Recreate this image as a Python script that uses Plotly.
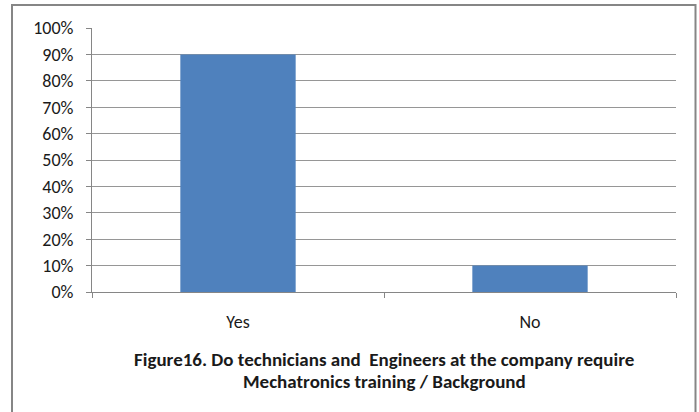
import plotly.graph_objects as go

categories = ["Yes", "No"]
values = [0.90, 0.10]
title_lines = ["Figure16. Do technicians and  Engineers at the company require",
               "Mechatronics training / Background"]

W, H = 699, 412
L, R, T, B = 92, 23, 28, 120
pw, ph = W - L - R, H - T - B

def px(x):
    return (x - L) / pw

def py(y):
    return (H - B - y) / ph

font_family = "Carlito, Calibri, 'Liberation Sans Narrow', 'Liberation Sans', Arial, sans-serif"

fig = go.Figure(go.Bar(x=categories, y=values, marker=dict(color="#4F81BD", line=dict(width=0)),
                       hoverinfo="skip"))

fig.update_layout(
    width=W, height=H,
    margin=dict(l=L, r=R, t=T, b=B),
    paper_bgcolor="white", plot_bgcolor="white",
    bargap=0.605,
    showlegend=False,
    font=dict(family=font_family, size=18, color="#1a1a1a"),
)
fig.update_xaxes(
    range=[-0.5, 1.5], showline=True, linecolor="#868686", linewidth=1,
    ticks="outside", tickson="boundaries", ticklen=5, tickcolor="#868686",
    showgrid=False, ticklabelstandoff=13, tickfont=dict(size=18),
)
fig.update_yaxes(
    range=[0, 1], dtick=0.1, tickformat=".0%", showline=True, linecolor="#868686",
    linewidth=1, ticks="outside", ticklen=5, tickcolor="#868686",
    showgrid=True, gridcolor="#969696", gridwidth=1, zeroline=False,
    ticklabelstandoff=9, tickfont=dict(size=18),
)
for line, yc in zip(title_lines, [359, 381]):
    fig.add_annotation(
        x=0.5, y=py(yc), xref="paper", yref="paper", showarrow=False,
        text="<b>" + line + "</b>",
        font=dict(family=font_family, size=19, color="#1a1a1a"),
        xanchor="center", yanchor="middle", align="center",
    )
fig.add_shape(type="rect", xref="paper", yref="paper",
              x0=px(12), x1=px(695.5), y0=py(430), y1=py(5),
              line=dict(color="#868686", width=2), layer="below")

fig.write_html("out.html", config={"displayModeBar": False},
               post_script="document.body.style.margin='0';")
